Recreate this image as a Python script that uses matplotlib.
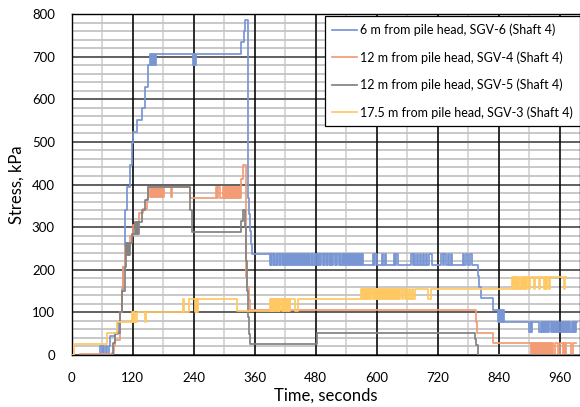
import matplotlib
matplotlib.use("Agg")
import matplotlib.pyplot as plt
import numpy as np

# ---------------- data: (time s, stress kPa), step points ----------------
# SGV-6 (6 m)
b_ramp_t = [16, 57, 59, 62, 64, 67, 70, 73, 76, 85, 92, 95, 99, 102, 105, 110, 115, 118, 121, 128, 138, 144, 150]
b_ramp_v = [0, 22, 0, 22, 0, 22, 0, 22, 45, 50, 75, 101, 150, 207, 340, 395, 446, 497, 524, 551, 579, 629, 680]
b_flip1_t = [154, 156, 158, 161, 163, 165, 167]          # 706 / 680
b_flip2_t = [238, 240, 242, 244]                          # 680 / 706
b_peak_t = [334, 339, 342, 347, 349, 351, 353, 355]
b_peak_v = [735, 759, 786, 368, 330, 290, 260, 237]
b_dense_t = [390, 392, 393, 395, 398, 399, 401, 404, 405, 407, 410, 411, 414, 416, 417, 420, 422, 423,
             426, 428, 429, 431, 434, 436, 437, 440, 441, 443, 446, 448, 449, 452, 454, 455, 458, 459,
             461, 464, 466, 467, 469, 472, 473, 476, 478, 479, 482, 484, 485, 488, 489, 491, 494, 496,
             497, 499, 502, 503, 506, 508, 509, 512, 513, 515, 518, 520, 521, 523, 526, 528, 529, 532,
             534, 535, 538, 539, 541, 544, 546, 547, 550, 552, 553, 556, 558, 559, 562, 564, 565, 568,
             570, 571, 574]                                  # 211 / 237
b_spk_t = [592, 594, 597, 600, 611, 613, 616, 619, 635, 637, 639, 642, 668, 671, 673, 676, 679, 682,
           685, 688, 692, 694, 697, 700, 704, 708, 727, 730, 733, 736, 740, 743, 746, 749, 769, 772,
           776, 779, 783, 787]                              # spikes 211 -> 237
b_step_t = [799, 802, 806, 829]
b_step_v = [185, 160, 133, 106]
b_flip3_t = [838, 840, 842, 845, 847, 849, 851]          # 78 / 106
b_end_t = [900, 903, 904, 906, 920, 923, 925, 927, 929, 931, 933, 936, 938, 940, 942, 944, 946, 949,
           951, 953, 955, 957, 959, 962, 964, 966, 968, 970, 973, 975, 977, 979, 981, 984, 986, 988,
           990, 993]                                        # dips 78 -> 55

# SGV-4 (12 m)
o_ramp_t = [16, 80, 83, 86, 96, 100, 102, 105, 115, 121, 125, 132, 140, 148, 151]
o_ramp_v = [2, 5, 20, 35, 100, 160, 207, 254, 280, 306, 313, 333, 343, 367, 393]
o_flip1_t = [155, 157, 158, 160, 162, 163, 165, 167, 169, 170, 172, 174, 176, 178, 180, 182, 195, 197]  # 370 / 393
o_spk_t = [285, 287, 289, 292, 298, 300, 302, 304, 306, 307, 309, 311, 313, 314, 316, 318, 320, 321,
           323, 325, 327, 328, 330, 332]                # spikes 368 -> 393
o_mid_t = [334, 338, 343, 346, 349, 351, 795, 797, 829]
o_mid_v = [414, 446, 184, 160, 129, 106, 78, 51, 28]
o_end_t = [904, 906, 908, 910, 912, 913, 915, 917, 919, 921, 923, 925, 927, 929, 931, 933, 935, 937,
           939, 941, 943, 945, 947, 950, 956, 960, 966, 969, 971, 973, 983, 986]  # dips 28 -> 0

# SGV-5 (12 m)
g_t = [16, 82, 85, 95, 100, 105, 108, 110, 111, 113, 115, 118, 125, 127, 129, 131, 133, 138, 144, 151,
       233, 236, 334, 337, 341, 343, 345, 347, 349, 351, 483, 793, 796, 799, 998]
g_v = [0, 28, 52, 102, 150, 207, 262, 235, 262, 235, 262, 285, 313, 285, 313, 285, 313, 340, 363, 393,
       340, 289, 315, 340, 300, 220, 150, 90, 50, 25, 51, 37, 23, 0, 0]

# SGV-3 (17.5 m)
y_ramp_t = [0, 4, 69, 89, 118, 121, 123, 125, 128, 144, 146, 220, 222, 231, 243, 245, 247, 249, 326]
y_ramp_v = [0, 26, 51, 78, 102, 78, 102, 78, 102, 78, 102, 131, 102, 131, 102, 131, 102, 131, 104]
y_flip1_t = [390, 392, 394, 395, 397, 399, 401, 402, 404, 406, 408, 409, 411, 413, 415, 417, 418, 420,
             422, 424, 425, 427, 429]                     # 131 / 104
y_spk1_t = [439, 445]                                    # dip 131 -> 104
y_flip2_t = [570, 572, 574, 576, 577, 579, 581, 583, 585, 587, 588, 590, 592, 594, 596, 598, 599, 601,
             603, 605, 607, 609, 610, 612, 614, 616, 618, 620, 622, 624, 626, 628, 630, 632, 634, 636,
             638, 640, 643, 645, 647, 650, 652, 655, 657, 660, 663, 666, 669, 672, 675]  # 156 / 131
y_spk2_t = [702, 707]                                    # dip 156 -> 131
y_end_t = [865, 867, 869, 871, 873, 875, 877, 879, 881, 883, 885, 887, 889, 891, 893, 895, 899, 901,
           909, 911, 919, 921, 929, 931, 934, 936, 939, 941, 968, 970]  # dips 182 -> 156
y_last_t = 973

labels = ["6 m from pile head, SGV-6 (Shaft 4)",
          "12 m from pile head, SGV-4 (Shaft 4)",
          "12 m from pile head, SGV-5 (Shaft 4)",
          "17.5 m from pile head, SGV-3 (Shaft 4)"]
colors = ["#7896D4", "#F39B74", "#828282", "#FFC862"]

x_ticks = [0, 120, 240, 360, 480, 600, 720, 840, 960]
y_ticks = [0, 100, 200, 300, 400, 500, 600, 700, 800]
x_minor_step = 60
y_minor_step = 20


# ---------------- helpers to assemble step series ----------------
def alt(times, a, b):
    """values alternate a, b, a, ... at the listed read-off switch times"""
    return list(times), [a if i % 2 == 0 else b for i in range(len(times))]


def join(*parts):
    T, V = [], []
    for t, v in parts:
        T += list(t)
        V += list(v)
    return T, V


bt, bv = join((b_ramp_t, b_ramp_v), alt(b_flip1_t, 706, 680), alt(b_flip2_t, 680, 706),
              (b_peak_t, b_peak_v), alt(b_dense_t, 211, 237), alt(b_spk_t, 237, 211),
              (b_step_t, b_step_v), alt(b_flip3_t, 78, 106), alt(b_end_t, 55, 78), ([995], [78]))
ot, ov = join((o_ramp_t, o_ramp_v), alt(o_flip1_t, 370, 393), ([233], [368]),
              alt(o_spk_t, 393, 368), (o_mid_t, o_mid_v), alt(o_end_t, 0, 28), ([992], [28]))
gt, gv = g_t, g_v
yt, yv = join((y_ramp_t, y_ramp_v), alt(y_flip1_t, 131, 104), alt(y_spk1_t, 104, 131),
              alt(y_flip2_t, 156, 131), alt(y_spk2_t, 131, 156), alt(y_end_t, 156, 182),
              ([y_last_t], [182]))

# ---------------- figure ----------------
plt.rcParams['font.family'] = ['Lato', 'DejaVu Sans']
fig = plt.figure(figsize=(5.8, 4.07), dpi=100)
ax = fig.add_axes([71.5 / 580, (407 - 355) / 407, (580 - 71.5) / 580, (355 - 14) / 407])

for (t, v), lab, c in zip([(bt, bv), (ot, ov), (gt, gv), (yt, yv)], labels, colors):
    ax.plot(t, v, drawstyle='steps-post', color=c, lw=1.25, label=lab, zorder=3)

ax.set_xlim(0, 1000)
ax.set_ylim(0, 800)
ax.set_xticks(x_ticks)
ax.set_yticks(y_ticks)

# gridlines: minor first, then major on top (Excel-like)
for xv in np.arange(0, 1000, x_minor_step):
    ax.axvline(xv, color='#D4D4D4', lw=1.3, zorder=0.1)
for yv_ in np.arange(0, 801, y_minor_step):
    ax.axhline(yv_, color='#C4C4C4', lw=1.3, zorder=0.15)
for yv_ in y_ticks:
    ax.axhline(yv_, color='#5A5A5A', lw=1.3, zorder=0.2)
for xv in x_ticks:
    ax.axvline(xv, color='#000000', lw=1.1, zorder=0.25)

ax.tick_params(which='both', length=0)
ax.tick_params(axis='x', pad=12, labelsize=9.5)
ax.tick_params(axis='y', pad=12, labelsize=9.5)
for s in ax.spines.values():
    s.set_color('black')
    s.set_linewidth(1.0)

ax.set_xlabel("Time, seconds", fontsize=12, labelpad=3)
ax.set_ylabel("Stress, kPa", fontsize=12, labelpad=5)

leg = ax.legend(loc='upper right', bbox_to_anchor=(1.0, 0.994), borderaxespad=0,
                fancybox=False, framealpha=1, edgecolor='black', fontsize=9.0,
                handlelength=2.0, handletextpad=0.2, labelspacing=1.2,
                borderpad=0.6)
leg.get_frame().set_linewidth(0.9)
leg.set_zorder(5)

fig.savefig("out.png", dpi=100)
